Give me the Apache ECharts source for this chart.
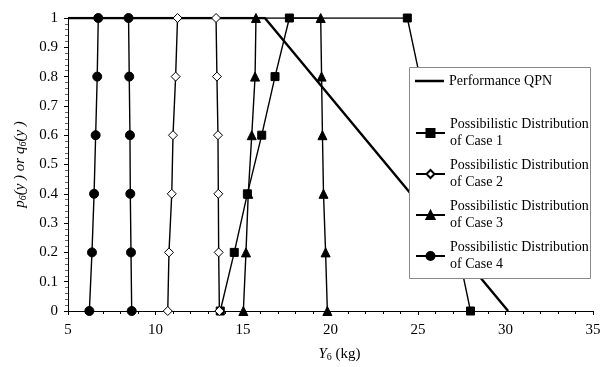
<!DOCTYPE html>
<html><head><meta charset="utf-8">
<script src="https://cdn.jsdelivr.net/npm/echarts@6/dist/echarts.min.js"></script>
<style>html,body{margin:0;padding:0;background:#fff}#c{width:613px;height:367px}</style>
</head><body><div id="c"></div>
<script>
var xTicks = [5, 10, 15, 20, 25, 30, 35];
var yTicks = [0, 0.1, 0.2, 0.3, 0.4, 0.5, 0.6, 0.7, 0.8, 0.9, 1];
var qpnX = [5, 16.25, 30.15];
var qpnY = [1, 1, 0];
var case1X = [13.7, 14.5, 15.25, 16.07, 16.83, 17.65, 24.39, 25.1, 25.8, 26.6, 27.3, 28.0];
var case1Y = [0, 0.2, 0.4, 0.6, 0.8, 1, 1, 0.8, 0.6, 0.4, 0.2, 0];
var case2X = [10.7, 10.77, 10.93, 11.0, 11.15, 11.26, 13.46, 13.51, 13.57, 13.59, 13.61, 13.65];
var case2Y = [0, 0.2, 0.4, 0.6, 0.8, 1, 1, 0.8, 0.6, 0.4, 0.2, 0];
var case3X = [15.02, 15.17, 15.3, 15.5, 15.69, 15.74, 19.44, 19.49, 19.54, 19.6, 19.72, 19.82];
var case3Y = [0, 0.2, 0.4, 0.6, 0.8, 1, 1, 0.8, 0.6, 0.4, 0.2, 0];
var case4X = [6.22, 6.37, 6.49, 6.58, 6.67, 6.73, 8.46, 8.5, 8.54, 8.56, 8.6, 8.64];
var case4Y = [0, 0.2, 0.4, 0.6, 0.8, 1, 1, 0.8, 0.6, 0.4, 0.2, 0];
var names = ['Performance QPN', 'Possibilistic Distribution\nof Case 1', 'Possibilistic Distribution\nof Case 2', 'Possibilistic Distribution\nof Case 3', 'Possibilistic Distribution\nof Case 4'];

function pairs(xs, ys) { return xs.map(function (x, i) { return [x, ys[i]]; }); }
var font = 'Liberation Serif';
var chart = echarts.init(document.getElementById('c'));
function caseSeries(name, xs, ys, sym, size, fill) {
  return {
    name: name, type: 'line', data: pairs(xs, ys), symbol: sym, symbolSize: size,
    lineStyle: { color: '#000', width: 1.4 },
    itemStyle: { color: fill, borderColor: '#000', borderWidth: 1 },
    z: 3
  };
}
chart.setOption({
  animation: false,
  backgroundColor: '#fff',
  grid: { left: 68, right: 20, top: 18, bottom: 51, containLabel: false },
  xAxis: {
    type: 'value', min: 5, max: 35, interval: 5,
    axisLine: { show: true, lineStyle: { color: '#000', width: 1 } },
    axisTick: { show: true, length: 4, lineStyle: { color: '#000' } },
    minorTick: { show: true, splitNumber: 5, length: 3, lineStyle: { color: '#000' } },
    splitLine: { show: false },
    axisLabel: { color: '#000', fontFamily: font, fontSize: 15, margin: 12 },
    name: '{i|Y}{s|6} (kg)', nameLocation: 'middle', nameGap: 35,
    nameTextStyle: {
      color: '#000', fontFamily: font, fontSize: 15, padding: [0, 0, 0, 18],
      rich: { i: { fontStyle: 'italic', fontFamily: font, fontSize: 15, color: '#000' },
              s: { fontFamily: font, fontSize: 10, color: '#000', padding: [6, 0, 0, 0] } }
    }
  },
  yAxis: {
    type: 'value', min: 0, max: 1, interval: 0.1,
    axisLine: { show: true, lineStyle: { color: '#000', width: 1 } },
    axisTick: { show: true, length: 4, lineStyle: { color: '#000' } },
    minorTick: { show: true, splitNumber: 5, length: 3, lineStyle: { color: '#666' } },
    splitLine: { show: false },
    axisLabel: { color: '#000', fontFamily: font, fontSize: 15, margin: 10,
      formatter: function (v) { return String(Math.round(v * 10) / 10); } },
    name: '{i|p}{s|6}{i|(y ) or q}{s|6}{i|(y )}', nameLocation: 'middle', nameGap: 37, nameRotate: 90,
    nameTextStyle: {
      color: '#000', fontFamily: font, fontSize: 15,
      rich: { i: { fontStyle: 'italic', fontFamily: font, fontSize: 15, color: '#000' },
              s: { fontStyle: 'italic', fontFamily: font, fontSize: 10, color: '#000', padding: [6, 0, 0, 0] } }
    }
  },
  graphic: [{
    type: 'rect', left: 409, top: 67, z: 50,
    shape: { width: 181, height: 211 },
    style: { fill: '#fff', stroke: '#888', lineWidth: 1 }
  }],
  legend: [{
    data: [{ name: names[0], icon: 'rect' }], orient: 'vertical', left: 410, top: 69, z: 60,
    itemWidth: 29, itemHeight: 2.5,
    itemStyle: { color: '#000' },
    textStyle: { color: '#000', fontFamily: font, fontSize: 14 }
  }, {
    data: names.slice(1), orient: 'vertical', left: 410, top: 111, z: 60,
    itemWidth: 29, itemHeight: 10, itemGap: 7,
    textStyle: { color: '#000', fontFamily: font, fontSize: 14, lineHeight: 17 }
  }],
  series: [
    { name: names[0], type: 'line', data: pairs(qpnX, qpnY), symbol: 'none', showSymbol: false,
      lineStyle: { color: '#000', width: 2.4 }, itemStyle: { color: '#000' }, z: 2 },
    caseSeries(names[1], case1X, case1Y, 'rect', 8, '#000'),
    caseSeries(names[2], case2X, case2Y, 'diamond', 9, '#fff'),
    caseSeries(names[3], case3X, case3Y, 'triangle', 9, '#000'),
    caseSeries(names[4], case4X, case4Y, 'circle', 9, '#000')
  ]
});
</script></body></html>
